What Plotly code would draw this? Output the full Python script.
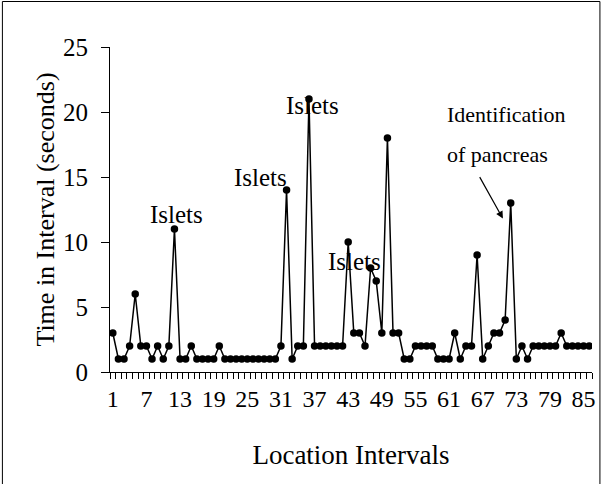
import plotly.graph_objects as go

# Data
intervals = list(range(1, 87))
times = [3, 1, 1, 2, 6, 2, 2, 1, 2, 1, 2, 11, 1, 1, 2, 1, 1, 1, 1, 2,
         1, 1, 1, 1, 1, 1, 1, 1, 1, 1, 2, 14, 1, 2, 2, 21, 2, 2, 2, 2,
         2, 2, 10, 3, 3, 2, 8, 7, 3, 18, 3, 3, 1, 1, 2, 2, 2, 2, 1, 1,
         1, 3, 1, 2, 2, 9, 1, 2, 3, 3, 4, 13, 1, 2, 1, 2, 2, 2, 2, 2,
         3, 2, 2, 2, 2, 2]
x_tick_labels = list(range(1, 86, 6))
y_ticks = [0, 5, 10, 15, 20, 25]

FONT = "Liberation Serif"

fig = go.Figure()
fig.add_trace(go.Scatter(
    x=intervals, y=times, mode="lines+markers",
    line=dict(color="black", width=1.5),
    marker=dict(color="black", size=7.5),
    showlegend=False, hoverinfo="x+y"))

islet_font = dict(family=FONT, size=25, color="black")
id_font = dict(family=FONT, size=22, color="black")
annotations = [
    dict(x=12.4, y=12.1, text="Islets"),
    dict(x=27.4, y=15.0, text="Islets"),
    dict(x=36.6, y=20.5, text="Islets"),
    dict(x=44.2, y=8.5, text="Islets"),
]
anns = [dict(xref="x", yref="y", showarrow=False, font=islet_font,
             xanchor="center", yanchor="middle", **a) for a in annotations]
anns.append(dict(xref="x", yref="y", x=60.3, y=19.8, xanchor="left", yanchor="middle",
                 showarrow=False, font=id_font, text="Identification"))
anns.append(dict(xref="x", yref="y", x=60.3, y=16.75, xanchor="left", yanchor="middle",
                 showarrow=False, font=id_font, text="of pancreas"))
anns.append(dict(xref="x", yref="y", x=70.6, y=11.8, text="", showarrow=True,
                 arrowhead=2, arrowsize=1.2, arrowwidth=1.2, arrowcolor="black",
                 ax=-24, ay=-43, axref="pixel", ayref="pixel"))

W, H = 606, 484
L, R, T, B = 110, 10, 47, 112
pw, ph = W - L - R, H - T - B

def px(xp):
    return (xp - L) / pw

def py(yp):
    return (H - B - yp) / ph

fig.update_layout(
    width=W, height=H,
    margin=dict(l=L, r=R, t=T, b=B),
    paper_bgcolor="white", plot_bgcolor="white",
    font=dict(family=FONT, size=24, color="black"),
    annotations=anns,
    shapes=[dict(type="rect", xref="paper", yref="paper",
                 x0=px(1.5), x1=px(604), y0=py(490), y1=py(1.5),
                 line=dict(color="black", width=1), fillcolor="rgba(0,0,0,0)",
                 layer="below")],
    xaxis=dict(
        range=[0.5, 86.5], showgrid=False, zeroline=False,
        showline=True, linecolor="black", linewidth=1,
        tickmode="array", tickvals=x_tick_labels,
        ticktext=[str(v) for v in x_tick_labels],
        ticks="outside", ticklen=0, ticklabelstandoff=5,
        tickfont=dict(family=FONT, size=24, color="black"),
        minor=dict(tickmode="array",
                   tickvals=[i + 0.5 for i in range(0, 87)],
                   ticks="outside", ticklen=6, tickcolor="black", tickwidth=1,
                   showgrid=False),
        title=dict(text="Location Intervals", standoff=34,
                   font=dict(family=FONT, size=27, color="black")),
    ),
    yaxis=dict(
        range=[0, 25], showgrid=False, zeroline=False,
        showline=True, linecolor="black", linewidth=1,
        tickmode="array", tickvals=y_ticks,
        ticks="outside", ticklen=8, tickcolor="black", ticklabelstandoff=8,
        tickfont=dict(family=FONT, size=25, color="black"),
        title=dict(text="Time in Interval (seconds)", standoff=0,
                   font=dict(family=FONT, size=26, color="black")),
    ),
)

fig.write_html("out.html", config={"displayModeBar": False},
               post_script="document.body.style.margin='0';")
